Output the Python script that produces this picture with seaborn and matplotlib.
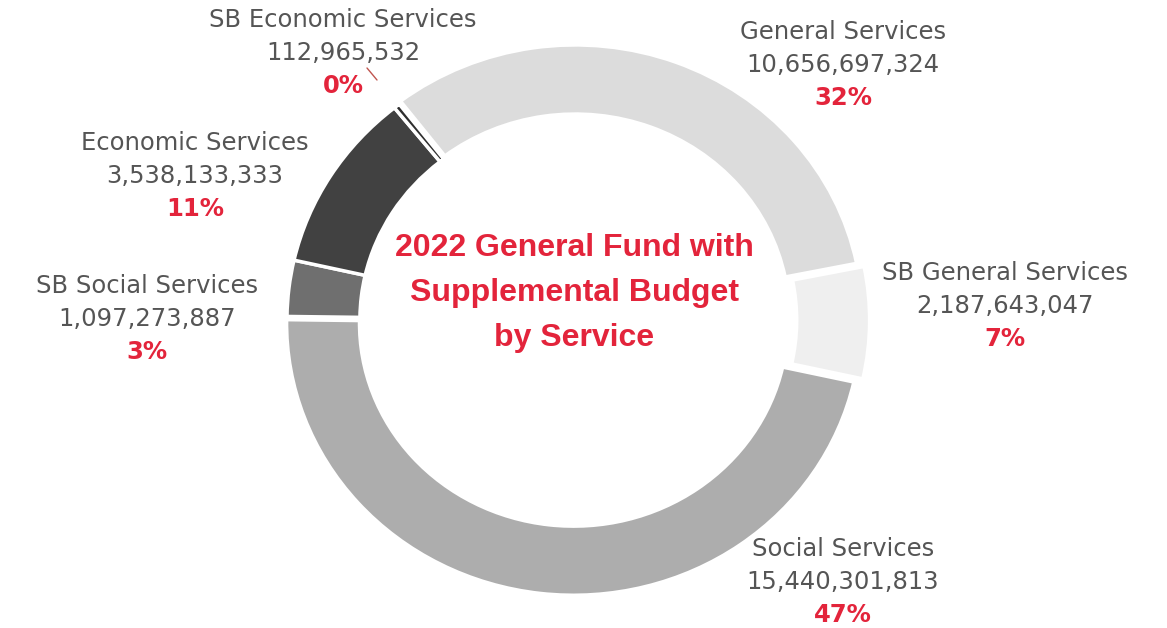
import matplotlib
matplotlib.use("Agg")
import matplotlib.pyplot as plt
import seaborn as sns

# Budget by service (PHP), clockwise from the top-left
services = ["General Services", "SB General Services", "Social Services",
            "SB Social Services", "Economic Services", "SB Economic Services"]
amounts = [10656697324, 2187643047, 15440301813,
           1097273887, 3538133333, 112965532]
shades = ["#dcdcdc", "#efefef", "#adadad", "#6f6f6f", "#414141", "#2e2e2e"]
title_lines = ["2022 General Fund with", "Supplemental Budget", "by Service"]

sns.set_theme(style="white")
plt.rcParams["font.family"] = ["DejaVu Sans"]

W, H = 1167, 628
fig = plt.figure(figsize=(W / 100, H / 100), dpi=100)
ax = fig.add_axes([0, 0, 1, 1])

# ring geometry in pixels (slightly wider than tall)
cx, cy = 574, 320
ry, rx = 272, 287

ax.pie(amounts, colors=shades, startangle=127.5, counterclock=False,
       radius=1.0, explode=[0.012, 0.03, 0.012, 0, 0, 0],
       wedgeprops=dict(width=0.254, edgecolor="white", linewidth=2.5))
ax.set_aspect("auto")
ax.set_xlim(-cx / rx, (W - cx) / rx)
ax.set_ylim(-(H - cy) / ry, cy / ry)
ax.axis("off")

total = sum(amounts)
grey = "#555555"
red = "#e3243b"

# label anchor (centre x, first-line y) in pixels
anchors = {
    "General Services": (843, 32),
    "SB General Services": (1005, 273),
    "Social Services": (843, 549),
    "SB Social Services": (147, 286),
    "Economic Services": (195, 143),
    "SB Economic Services": (343, 20),
}
step = 33
fs = 17.5


def fpos(x, y):
    return x / W, 1 - y / H


for name, amt in zip(services, amounts):
    x, y = anchors[name]
    fig.text(*fpos(x, y), name, ha="center", va="center", fontsize=fs, color=grey)
    fig.text(*fpos(x, y + step), f"{amt:,}", ha="center", va="center",
             fontsize=fs, color=grey)
    fig.text(*fpos(x, y + 2 * step), f"{round(100 * amt / total)}%", ha="center",
             va="center", fontsize=fs, color=red, fontweight="bold")

# leader for the thin slice
fig.add_artist(plt.Line2D([367 / W, 377 / W], [1 - 68 / H, 1 - 80 / H],
                          color="#c0554f", linewidth=1))

for i, line in enumerate(title_lines):
    fig.text(*fpos(cx, 248 + 45 * i), line, ha="center", va="center",
             fontsize=23, color=red, fontweight="bold",
             family=["Liberation Sans", "DejaVu Sans"])

fig.savefig("out.png", dpi=100)
